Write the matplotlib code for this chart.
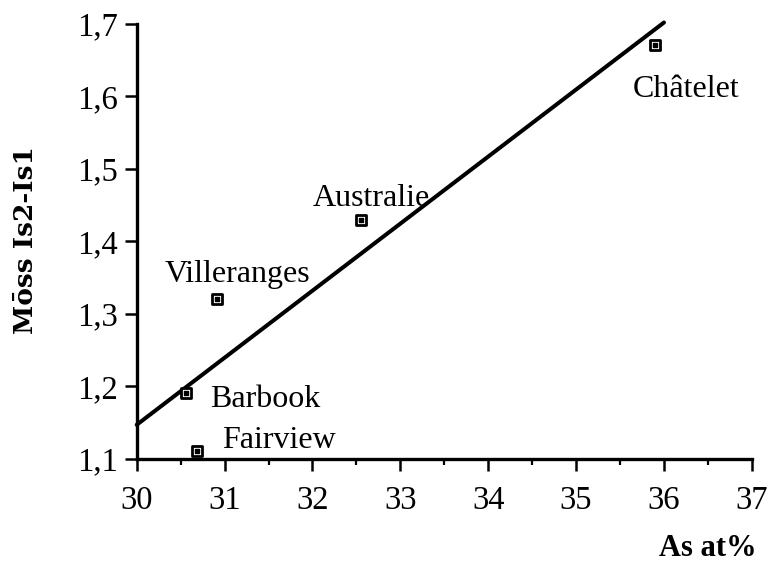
import numpy as np
import matplotlib
matplotlib.use("Agg")
import matplotlib.pyplot as plt
from matplotlib.ticker import MultipleLocator

plt.rcParams["font.family"] = ["Liberation Serif", "DejaVu Serif"]

# ---- data ----
sites = ["Châtelet", "Australie", "Villeranges", "Barbook", "Fairview"]
as_at = [35.90, 32.55, 30.91, 30.56, 30.69]
moss = [1.671, 1.430, 1.320, 1.191, 1.111]

# regression line end points
fit_x = [30.0, 36.0]
fit_y = [1.147, 1.702]

xticks = [30, 31, 32, 33, 34, 35, 36, 37]
yticks = [1.1, 1.2, 1.3, 1.4, 1.5, 1.6, 1.7]

# label offsets in pixels (dx, dy) from each marker to the text baseline start
label_off = {
    "Châtelet": (-22, -52),
    "Australie": (-48, 14),
    "Villeranges": (-52, 17),
    "Barbook": (24, -14),
    "Fairview": (25, 3),
}

fig = plt.figure(figsize=(7.68, 5.70), dpi=100)
ax = fig.add_axes([0.178, 0.195, 0.801, 0.763])

ax.plot(fit_x, fit_y, color="black", lw=2.9, solid_capstyle="round",
        zorder=2, clip_on=False)
ax.scatter(as_at, moss, marker="s", s=58, facecolor="white",
           edgecolor="black", linewidth=2.0, zorder=3)
ax.scatter(as_at, moss, marker="s", s=5, color="black", zorder=4)

for name, x, y in zip(sites, as_at, moss):
    dx, dy = label_off[name]
    ax.annotate(name, (x, y), xytext=(dx, dy), textcoords="offset pixels",
                fontsize=23, ha="left", va="baseline")

ax.set_xlim(30, 37)
ax.set_ylim(1.1, 1.7)
ax.set_xticks(xticks)
ax.set_yticks(yticks)
ax.xaxis.set_minor_locator(MultipleLocator(0.5))
ax.set_xticklabels([str(t) for t in xticks])
ax.set_yticklabels([f"{t:.1f}".replace(".", ",") for t in yticks])

for s in ["top", "right"]:
    ax.spines[s].set_visible(False)
for s in ["left", "bottom"]:
    ax.spines[s].set_linewidth(2.4)
ax.tick_params(which="major", direction="out", length=8.5, width=1.8,
               labelsize=23.5)
ax.tick_params(axis="x", which="major", pad=11)
ax.tick_params(axis="y", which="major", pad=5)
ax.tick_params(axis="x", which="minor", direction="out", length=4.5, width=1.6)

fig.text(26 / 768, 1 - 240 / 570, "Mōss Is2-Is1", rotation=90,
         fontsize=19, fontweight="bold", family=["DejaVu Serif"],
         ha="center", va="center")
fig.text(757 / 768, 14 / 570, "As at%", fontsize=22, fontweight="bold",
         ha="right", va="baseline")

fig.savefig("out.png", dpi=100)
